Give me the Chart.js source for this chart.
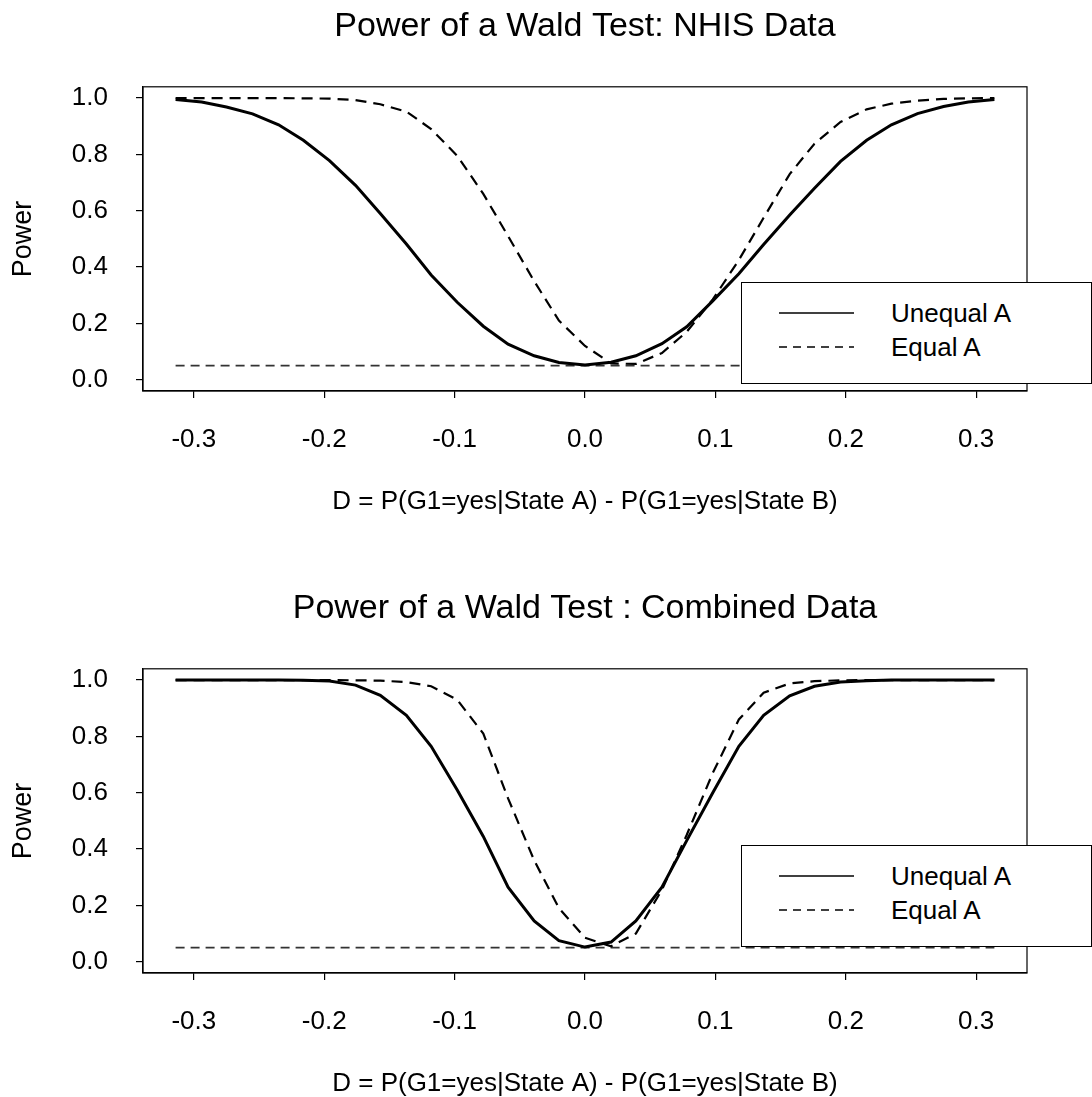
<!DOCTYPE html>
<html>
<head>
<meta charset="utf-8">
<script src="https://cdn.jsdelivr.net/npm/chart.js@4.4.1/dist/chart.umd.min.js"></script>
<style>
    body { margin: 0; background: #fff; overflow: hidden; width: 1092px; height: 1097px; }
    .panel { position: relative; width: 1092px; height: 582px; }
    .legend {
        position: absolute; left: 741px; width: 349px; height: 100px;
        background: #fff; border: 1.3px solid #000;
        font-family: "Liberation Sans", Arial, sans-serif; font-size: 26px; color: #000;
    }
    .legend .row { position: absolute; left: 0; height: 30px; width: 100%; }
    .legend svg { position: absolute; left: 37px; top: 0; }
    .legend span { position: absolute; left: 149px; top: 0; line-height: 30px; }
</style>
</head>
<body>
<div class="panel">
    <canvas id="chartNhis" width="1092" height="582"></canvas>
    <div class="legend" id="legendNhis" style="top:282px"></div>
</div>
<div class="panel">
    <canvas id="chartCombined" width="1092" height="582"></canvas>
    <div class="legend" id="legendCombined" style="top:263px"></div>
</div>
<script>
const xValues = [-0.314, -0.294, -0.275, -0.255, -0.235, -0.216, -0.196, -0.176, -0.157, -0.137, -0.118,
    -0.098, -0.078, -0.059, -0.039, -0.020, 0, 0.020, 0.039, 0.059, 0.078, 0.098,
    0.118, 0.137, 0.157, 0.176, 0.196, 0.216, 0.235, 0.255, 0.275, 0.294, 0.314];

const nhisUnequal = [0.995, 0.986, 0.968, 0.944, 0.905, 0.850, 0.778, 0.690, 0.590, 0.482, 0.372,
    0.275, 0.190, 0.126, 0.085, 0.061, 0.052, 0.062, 0.085, 0.128, 0.188, 0.280,
    0.376, 0.480, 0.585, 0.680, 0.775, 0.850, 0.905, 0.945, 0.970, 0.986, 0.995];
const nhisEqual = [1.0, 1.0, 1.0, 1.0, 1.0, 0.999, 0.998, 0.993, 0.978, 0.952, 0.890,
    0.795, 0.660, 0.510, 0.350, 0.210, 0.120, 0.058, 0.056, 0.095, 0.170, 0.285,
    0.425, 0.575, 0.730, 0.838, 0.915, 0.960, 0.980, 0.991, 0.997, 0.999, 1.0];

const combUnequal = [1.0, 1.0, 1.0, 1.0, 1.0, 0.999, 0.997, 0.982, 0.946, 0.875, 0.765,
    0.610, 0.445, 0.265, 0.145, 0.075, 0.052, 0.070, 0.145, 0.265, 0.430, 0.600,
    0.765, 0.875, 0.944, 0.978, 0.993, 0.998, 1.0, 1.0, 1.0, 1.0, 1.0];
const combEqual = [1.0, 1.0, 1.0, 1.0, 1.0, 1.0, 1.0, 0.999, 0.998, 0.993, 0.978,
    0.930, 0.810, 0.580, 0.360, 0.190, 0.085, 0.055, 0.100, 0.255, 0.450, 0.670,
    0.860, 0.955, 0.988, 0.996, 0.999, 1.0, 1.0, 1.0, 1.0, 1.0, 1.0];

// nominal level line
const levelX = [-0.314, 0.314];
const levelY = [0.05, 0.05];

const seriesNames = ["Unequal A", "Equal A"];
const xTicks = [-0.3, -0.2, -0.1, 0.0, 0.1, 0.2, 0.3];
const xTickLabels = ["-0.3", "-0.2", "-0.1", "0.0", "0.1", "0.2", "0.3"];
const yTicks = [0, 0.2, 0.4, 0.6, 0.8, 1.0];
const yTickLabels = ["0.0", "0.2", "0.4", "0.6", "0.8", "1.0"];

const titles = ["Power of a Wald Test: NHIS Data", "Power of a Wald Test : Combined Data"];
const xTitle = "D = P(G1=yes|State A) - P(G1=yes|State B)";
const yTitle = "Power";

Chart.defaults.font.family = '"Liberation Sans", Arial, sans-serif';
Chart.defaults.color = "#000";

const boxPlugin = {
    id: "box",
    afterDraw(chart) {
        let a = chart.chartArea;
        let ctx = chart.ctx;
        ctx.save();
        ctx.strokeStyle = "#000";
        ctx.lineWidth = 1.2;
        ctx.strokeRect(a.left, a.top, a.right - a.left, a.bottom - a.top);
        ctx.restore();
    }
};

function points(ys, xs = xValues) {
    return ys.map((y, i) => ({ x: xs[i], y }));
}

function drawChart(canvasId, title, unequal, equal) {
    return new Chart(document.getElementById(canvasId), {
        type: "line",
        data: {
            datasets: [
                { label: seriesNames[0], data: points(unequal), borderColor: "#000", borderWidth: 3 },
                { label: seriesNames[1], data: points(equal), borderColor: "#000", borderWidth: 2.2, borderDash: [11, 7] },
                { label: "level", data: points(levelY, levelX), borderColor: "#333", borderWidth: 1.6, borderDash: [9, 6] }
            ]
        },
        options: {
            responsive: false,
            animation: false,
            devicePixelRatio: 1,
            layout: { padding: { left: 0, right: 65, top: 0, bottom: 0 } },
            elements: { point: { radius: 0 }, line: { tension: 0 } },
            plugins: {
                legend: { display: false },
                tooltip: { enabled: false },
                title: {
                    display: true,
                    text: title,
                    fullSize: false,
                    color: "#000",
                    font: { size: 34, weight: "normal" },
                    padding: { top: 6, bottom: 40 }
                }
            },
            scales: {
                x: {
                    type: "linear",
                    min: -0.339,
                    max: 0.339,
                    afterBuildTicks: s => { s.ticks = xTicks.map(v => ({ value: v })); },
                    afterFit: s => { s.height = 191; },
                    ticks: {
                        callback: (v, i) => xTickLabels[i],
                        font: { size: 26 },
                        padding: 26,
                        maxRotation: 0
                    },
                    grid: { drawOnChartArea: false, tickLength: 7, color: "#000", lineWidth: 1.2 },
                    border: { display: true, color: "#000", width: 1.2 },
                    title: { display: true, text: xTitle, font: { size: 26 }, padding: { top: 0, bottom: 65 } }
                },
                y: {
                    min: -0.04,
                    max: 1.04,
                    afterBuildTicks: s => { s.ticks = yTicks.map(v => ({ value: v })); },
                    afterFit: s => { s.width = 143; },
                    ticks: {
                        callback: (v, i) => yTickLabels[i],
                        font: { size: 26 },
                        padding: 28
                    },
                    grid: { drawOnChartArea: false, tickLength: 7, color: "#000", lineWidth: 1.2 },
                    border: { display: true, color: "#000", width: 1.2 },
                    title: { display: true, text: yTitle, font: { size: 27 }, padding: { top: 7, bottom: 0 } }
                }
            }
        },
        plugins: [boxPlugin]
    });
}

function renderLegend(id) {
    let box = document.getElementById(id);
    box.innerHTML = "";
    seriesNames.forEach((name, i) => {
        let row = document.createElement("div");
        row.className = "row";
        row.style.top = (i === 0 ? 15 : 49) + "px";
        let dash = i === 0 ? "" : ' stroke-dasharray="8 6"';
        row.innerHTML = `<svg width="76" height="30"><line x1="0" y1="15" x2="75" y2="15" stroke="#000" stroke-width="1.4"${dash}/></svg><span>${name}</span>`;
        box.appendChild(row);
    });
}

drawChart("chartNhis", titles[0], nhisUnequal, nhisEqual);
drawChart("chartCombined", titles[1], combUnequal, combEqual);
renderLegend("legendNhis");
renderLegend("legendCombined");
</script>
</body>
</html>
